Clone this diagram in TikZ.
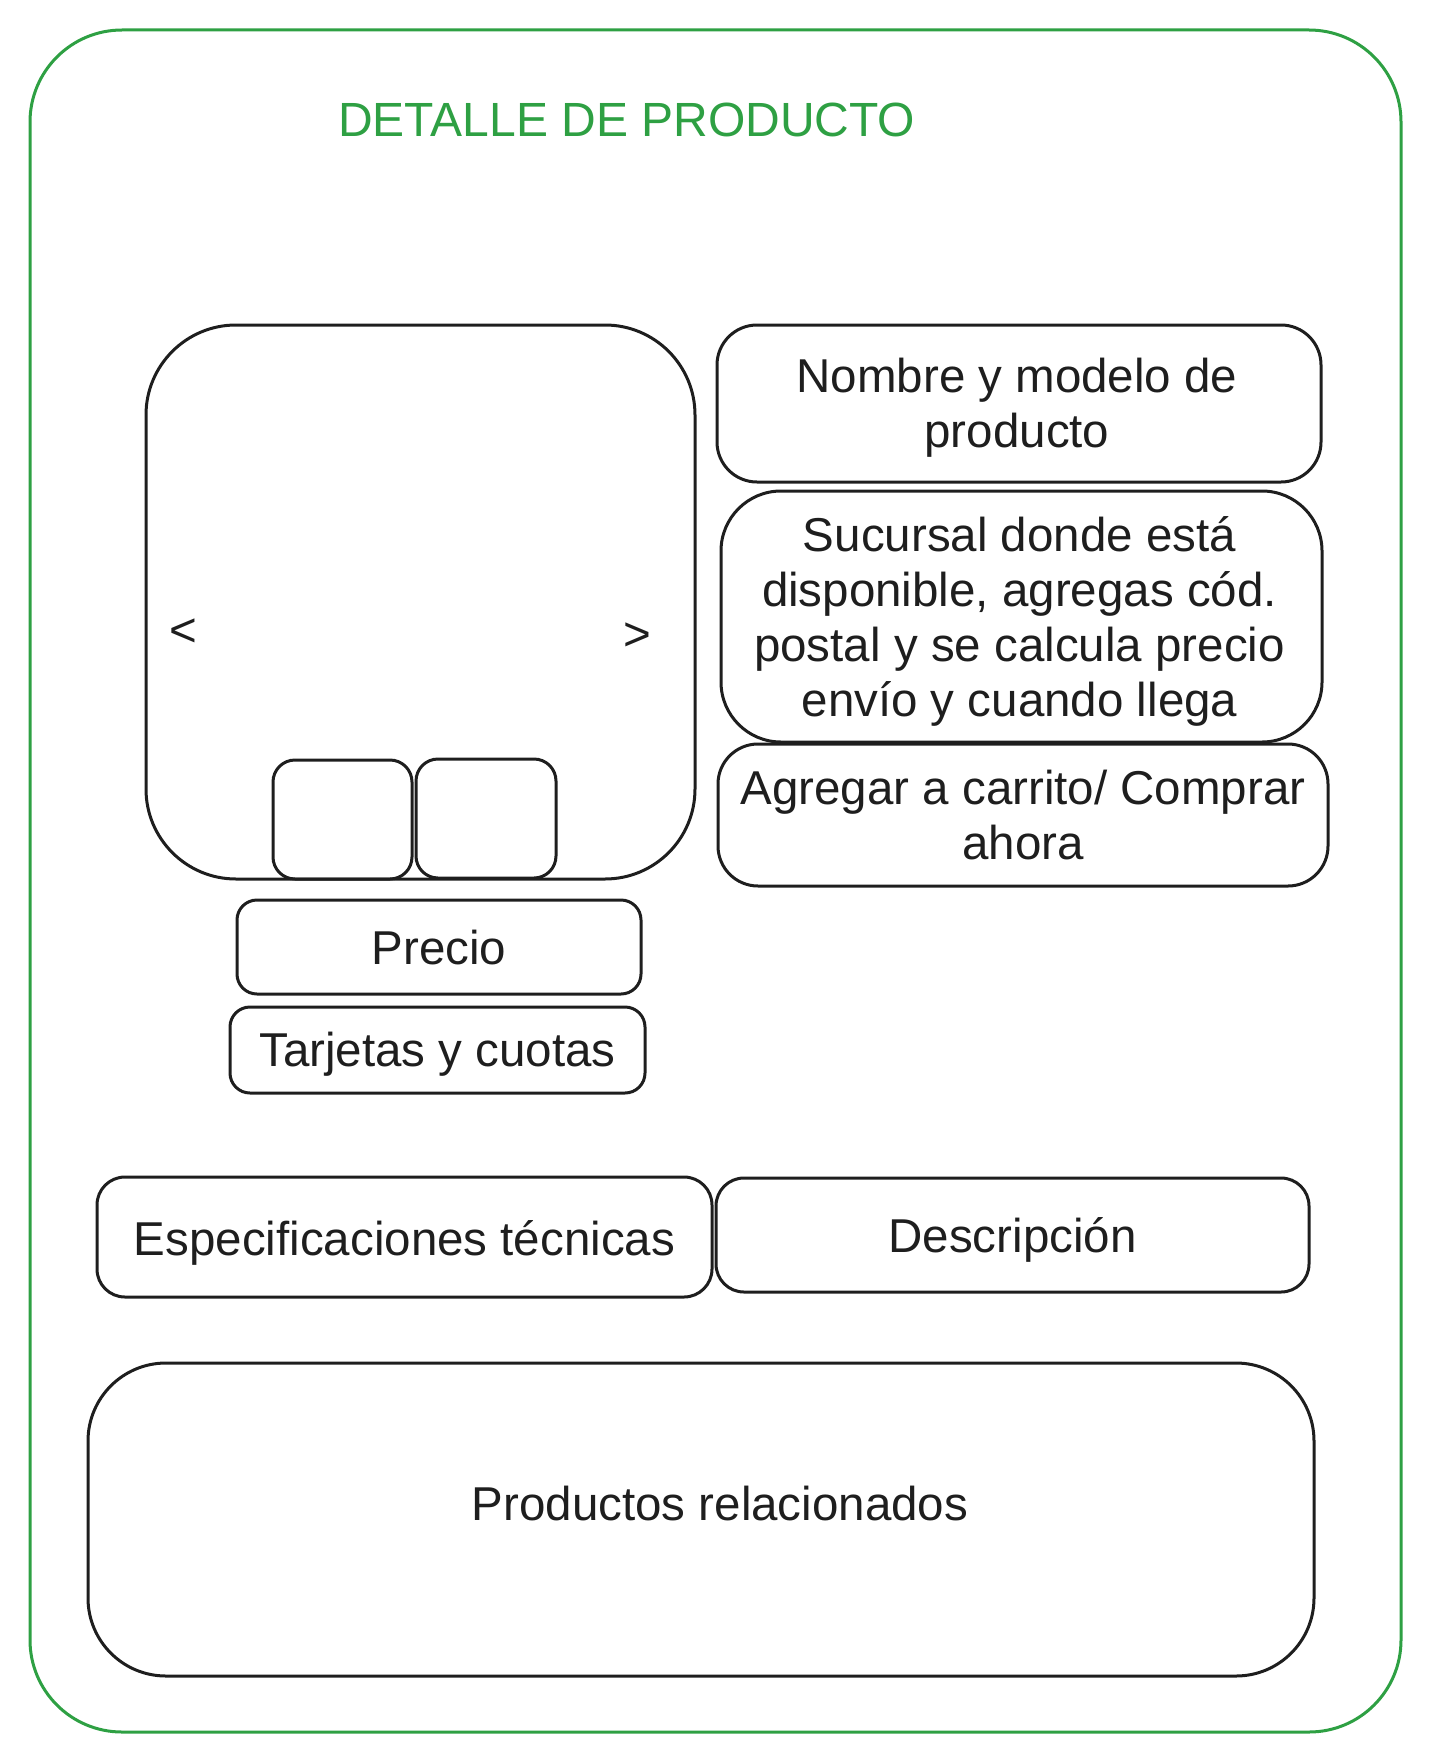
\documentclass[tikz,border=0pt]{standalone}
\usepackage{fontspec}
\setmainfont{Liberation Sans}
\definecolor{frameGreen}{RGB}{46,160,67}
\definecolor{ink}{RGB}{30,30,30}
\begin{document}
\begin{tikzpicture}[x=1pt,y=-1pt,
  txt/.style={font=\fontsize{47.5}{55}\selectfont, text=ink, align=center, inner sep=0pt},
  box/.style={draw=ink, line width=3pt, rectangle, inner sep=0pt},
  frm/.style={draw=frameGreen, line width=3pt, rectangle, rounded corners=92pt, inner sep=0pt}]
\useasboundingbox (0,0) rectangle (1430,1763);
% outer frame
\node[frm, minimum width=1371pt, minimum height=1702pt] (frame) at (715.5,881) {};
\node[anchor=base west, font=\fontsize{48}{55}\selectfont, text=frameGreen, inner sep=0pt] (title) at (338,137) {DETALLE DE PRODUCTO};
% gallery
\node[box, rounded corners=90pt, minimum width=549pt, minimum height=554pt] (gallery) at (420.5,602) {};
\node[box, rounded corners=22pt, minimum width=139pt, minimum height=119pt] (thumbA) at (342.5,819.5) {};
\node[box, rounded corners=22pt, minimum width=140pt, minimum height=119pt] (thumbB) at (486,818.5) {};
\node[txt] (prev) at (183,633) {<};
\node[txt] (next) at (637,637) {>};
% price
\node[box, rounded corners=20pt, minimum width=404pt, minimum height=94pt] (precio) at (439,947) {};
\node[txt] (precioT) at ([yshift=-1pt]precio.center) {Precio};
\node[box, rounded corners=20pt, minimum width=415pt, minimum height=86pt] (tarjetas) at (437.5,1050) {};
\node[txt] (tarjetasT) at ([yshift=-4.5pt]tarjetas.center) {Tarjetas y cuotas};
% right column
\node[box, rounded corners=40pt, minimum width=604pt, minimum height=157pt] (nombre) at (1019,403.5) {};
\node[txt] (nombreT) at ([yshift=-4.5pt,xshift=-2pt]nombre.center) {Nombre y modelo de\\producto};
\node[box, rounded corners=60pt, minimum width=601pt, minimum height=251pt] (sucursal) at (1021.5,616.5) {};
\node[txt] (sucursalT) at ([yshift=-4.5pt,xshift=-2pt]sucursal.center) {Sucursal donde está\\disponible, agregas cód.\\postal y se calcula precio\\envío y cuando llega};
\node[box, rounded corners=40pt, minimum width=610pt, minimum height=142pt] (agregar) at (1023,815) {};
\node[txt] (agregarT) at (agregar.center) {Agregar a carrito/ Comprar\\ahora};
% tabs
\node[box, rounded corners=28pt, minimum width=615pt, minimum height=120pt] (espec) at (404.5,1237) {};
\node[txt] (especT) at ([yshift=-5.5pt]espec.center) {Especificaciones técnicas};
\node[box, rounded corners=28pt, minimum width=593pt, minimum height=114pt] (descr) at (1012.5,1235) {};
\node[txt] (descrT) at ([yshift=-4.5pt]descr.center) {Descripción};
% related
\node[box, rounded corners=78pt, minimum width=1226pt, minimum height=313pt] (relbox) at (701,1519.5) {};
\node[txt] (reltxt) at (720,1504) {Productos relacionados};
\end{tikzpicture}
\end{document}
